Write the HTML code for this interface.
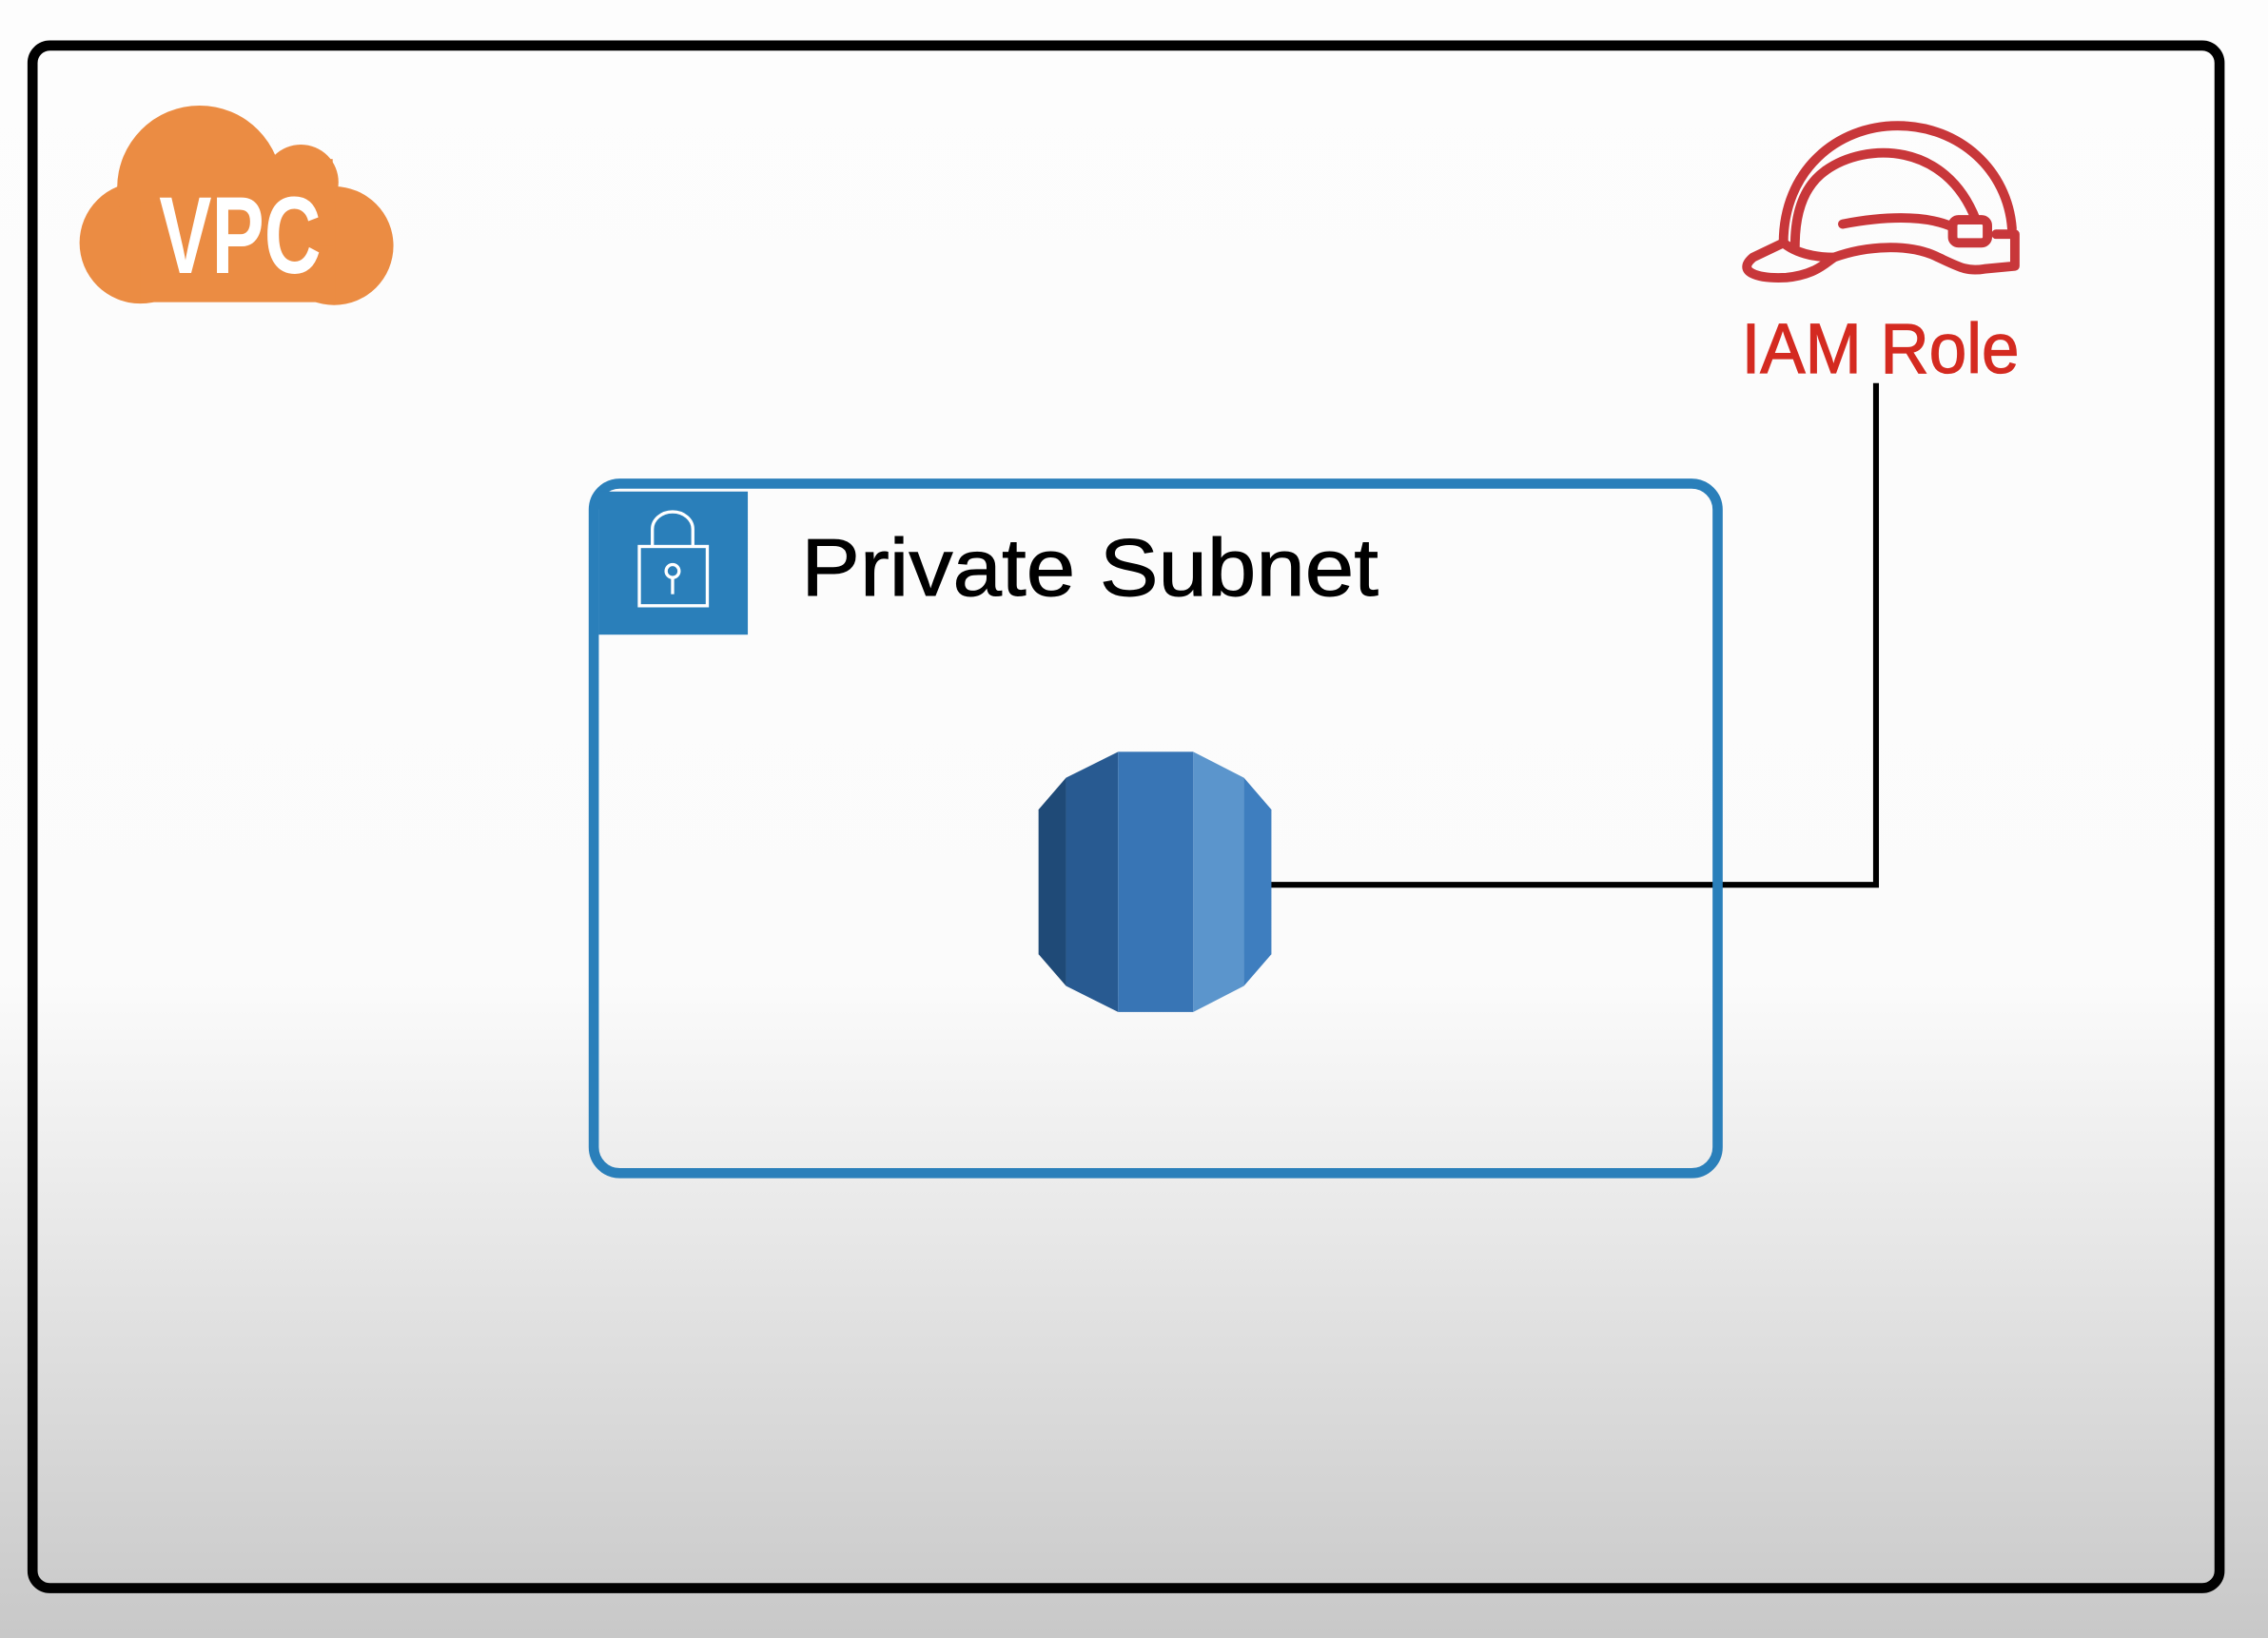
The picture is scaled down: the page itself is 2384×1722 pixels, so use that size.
<!DOCTYPE html>
<html><head><meta charset="utf-8"><style>
html,body{margin:0;padding:0;width:2384px;height:1722px;overflow:hidden}
svg{display:block}
</style></head><body>
<svg width="2384" height="1722" viewBox="0 0 1568 1133" preserveAspectRatio="none" xmlns="http://www.w3.org/2000/svg">
<defs>
<linearGradient id="bg" x1="0" y1="0" x2="0" y2="1">
<stop offset="0" stop-color="#fdfdfd"/>
<stop offset="0.6" stop-color="#fbfbfb"/>
<stop offset="1" stop-color="#c8c8c8"/>
</linearGradient>
</defs>
<rect width="1568" height="1133" fill="url(#bg)"/>
<rect x="22.5" y="31.5" width="1512" height="1067" rx="12" fill="none" stroke="#000" stroke-width="7"/>
<!-- VPC cloud -->
<g fill="#EB8C43">
<circle cx="97" cy="168" r="42"/>
<circle cx="138" cy="130" r="57"/>
<circle cx="208" cy="126" r="26"/>
<circle cx="231" cy="170" r="41"/>
<rect x="97" y="140" width="135" height="69"/>
<rect x="120" y="110" width="110" height="60"/>
</g>
<text x="110" y="189" font-family="Liberation Sans Narrow, Liberation Sans, sans-serif" font-weight="bold" font-size="76" fill="#fff" textLength="112" lengthAdjust="spacingAndGlyphs">VPC</text>
<!-- IAM helmet -->
<g fill="none" stroke="#C8373A" stroke-width="6.5" stroke-linecap="round" stroke-linejoin="round">
<path d="M1233,168 C1233,118 1270,87 1312,87 C1355,87 1388,118 1391,158"/>
<path d="M1262,118 C1290,98 1345,98 1366,152"/>
<path d="M1262,118 C1248,128 1241,145 1241,170"/>
<path d="M1233,168 L1212,178 C1200,188 1215,193 1235,192 C1255,190 1262,182 1268,178 C1290,170 1320,168 1340,178 C1355,185 1360,188 1372,186 L1393,184 L1393,162 L1380,162"/>
<path d="M1233,168 C1243,176 1256,178 1268,178"/>
<path d="M1274,155 C1300,150 1330,148 1350,157"/>
<rect x="1350" y="152" width="24" height="16" rx="4"/>
</g>
<text x="1204" y="258" font-family="Liberation Sans, sans-serif" font-size="49" fill="#D42A20" stroke="#D42A20" stroke-width="0.8" textLength="192" lengthAdjust="spacingAndGlyphs">IAM Role</text>
<!-- connector -->
<path d="M878,612 L1297,612 L1297,265" fill="none" stroke="#000" stroke-width="4"/>
<!-- Subnet -->
<rect x="410.5" y="334.5" width="777" height="477" rx="18" fill="none" stroke="#2A7FBA" stroke-width="7"/>
<rect x="414" y="340" width="103" height="99" fill="#2A7FBA"/>
<g fill="none" stroke="#fff" stroke-width="2.2">
<path d="M451,378 L451,366 A14,12 0 0 1 479,366 L479,378"/>
<rect x="442" y="378" width="47" height="41"/>
<circle cx="465" cy="395" r="4.5"/>
<path d="M465,400 L465,411"/>
</g>
<text x="554" y="412" font-family="Liberation Sans, sans-serif" font-size="56" fill="#000" stroke="#000" stroke-width="0.6" textLength="399" lengthAdjust="spacingAndGlyphs">Private Subnet</text>
<!-- RDS -->
<polygon points="718,560 737,538 737,682 718,660" fill="#1F4A77"/>
<polygon points="737,538 773,520 773,700 737,682" fill="#285A91"/>
<rect x="773" y="520" width="52" height="180" fill="#3875B5"/>
<polygon points="825,520 860,538 860,682 825,700" fill="#5B95CC"/>
<polygon points="860,538 879,560 879,660 860,682" fill="#3E7EBF"/>
</svg>
</body></html>
